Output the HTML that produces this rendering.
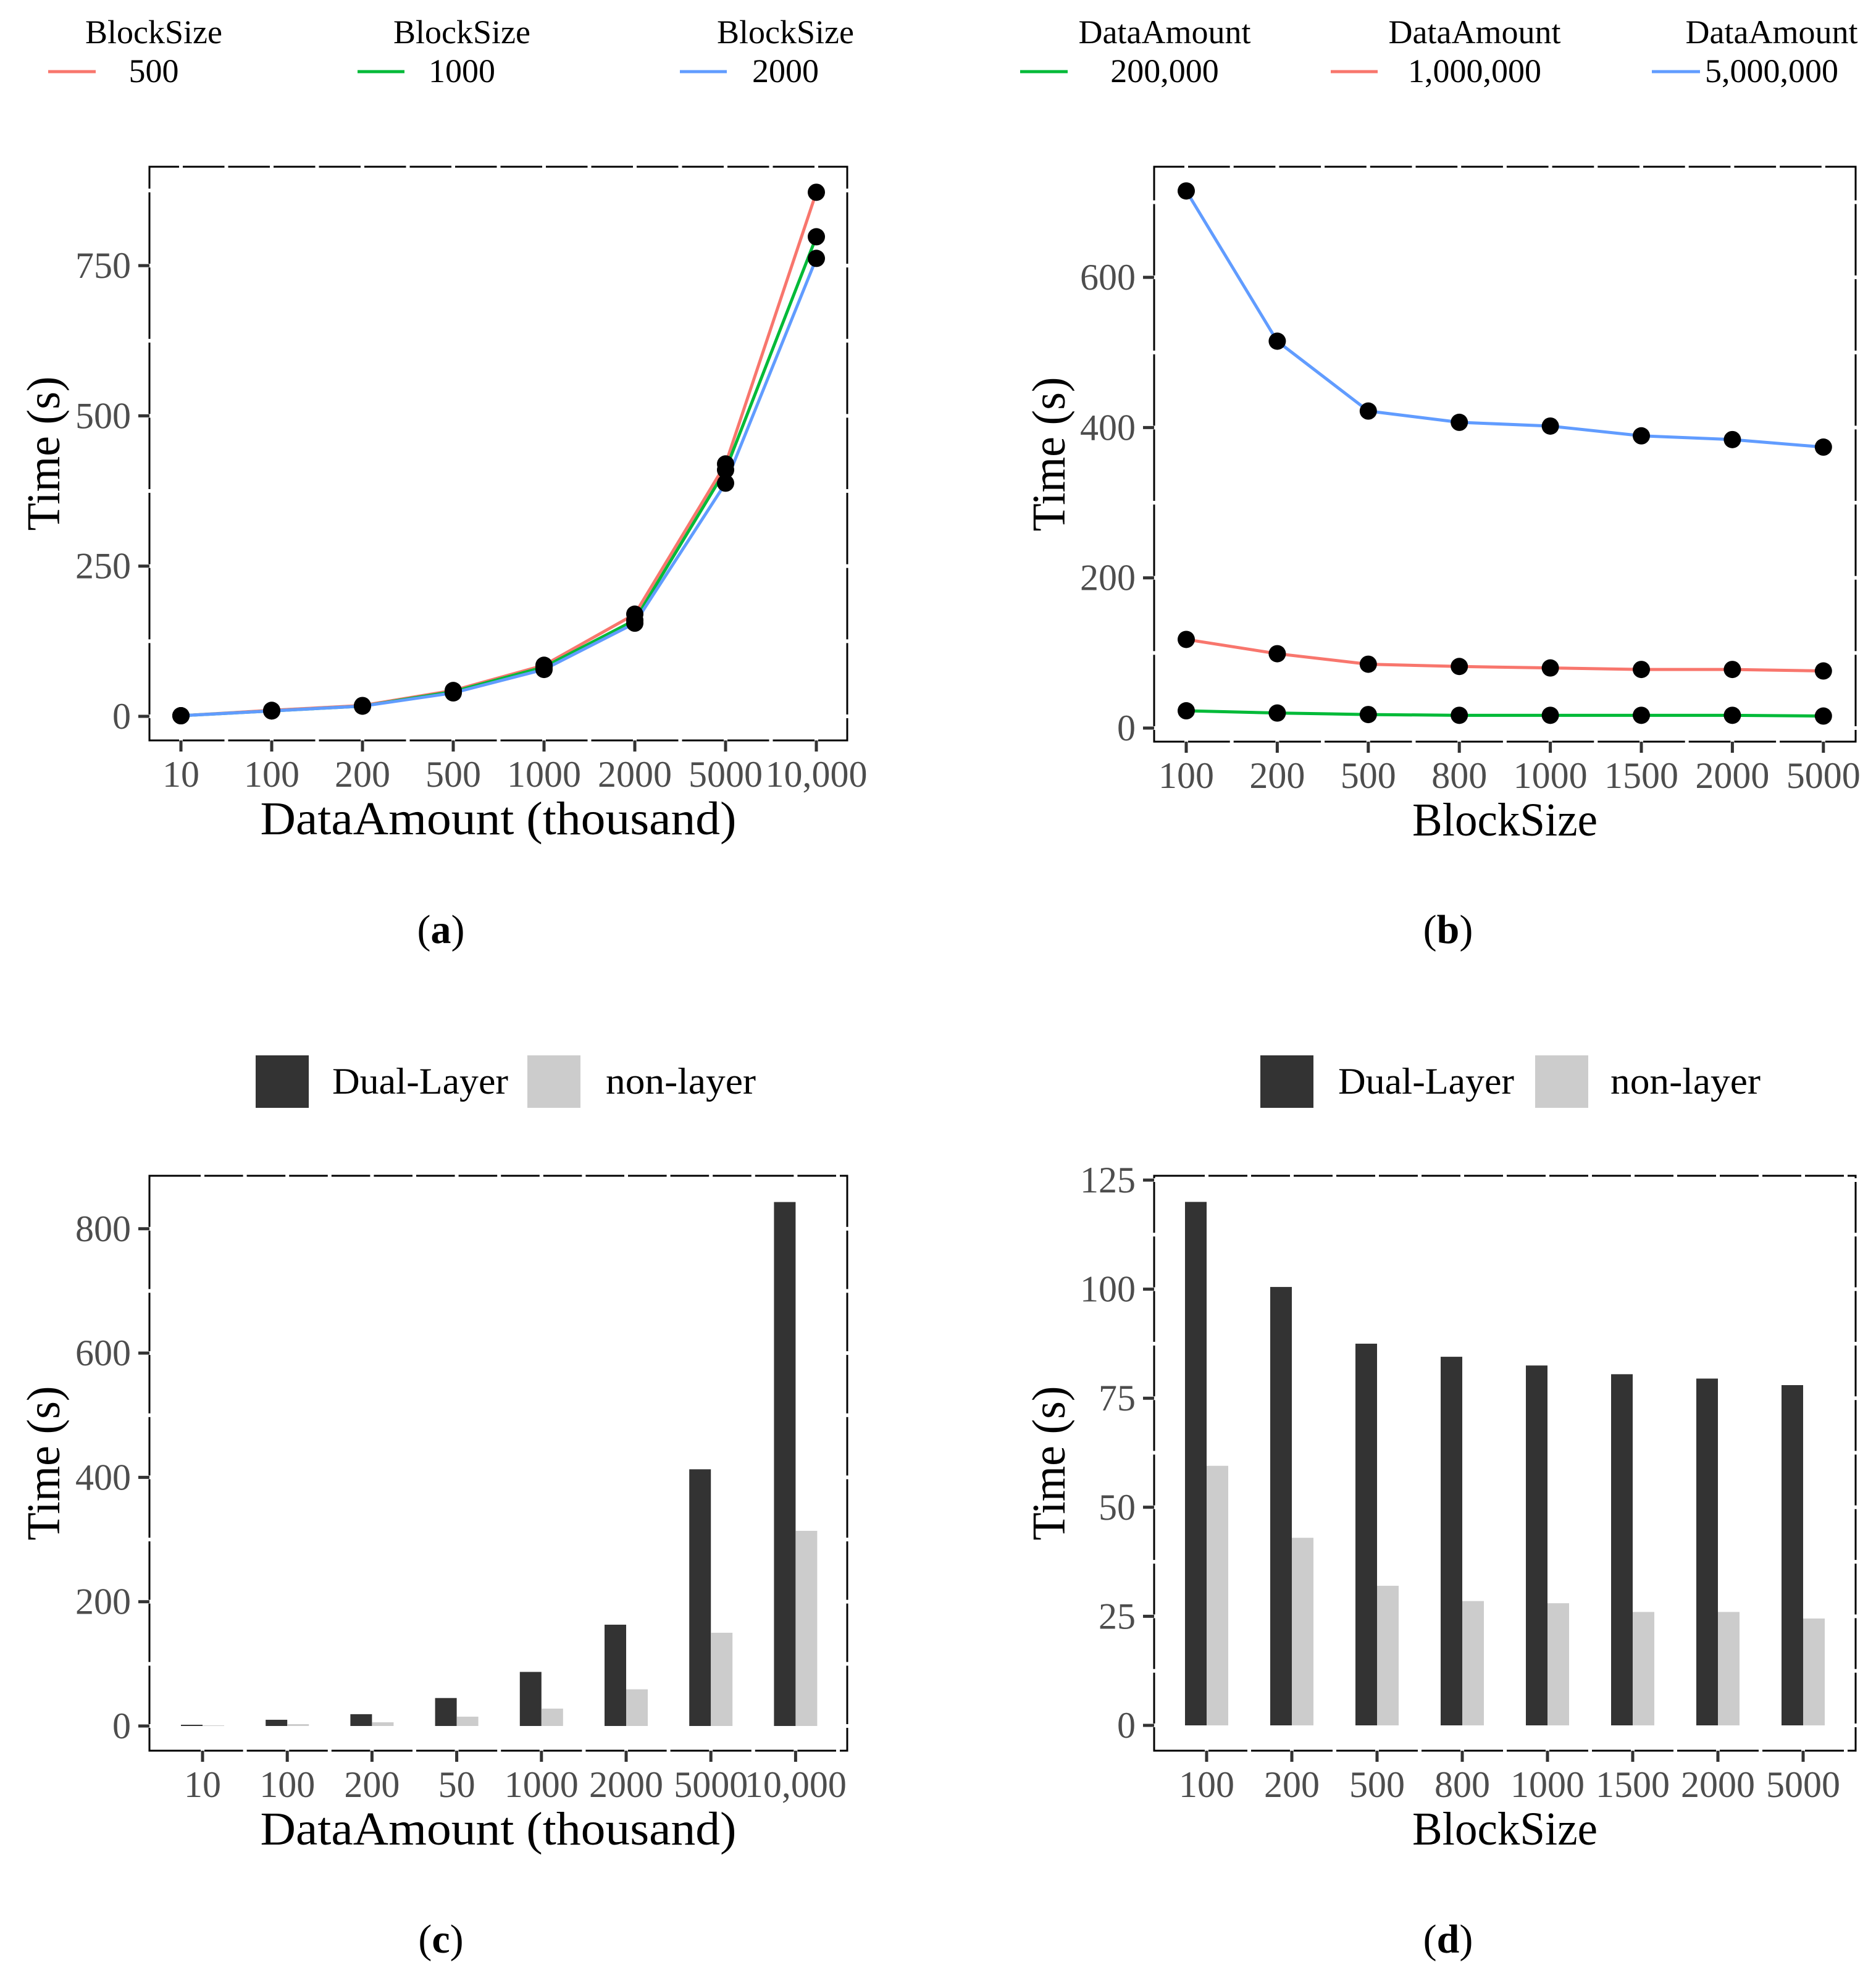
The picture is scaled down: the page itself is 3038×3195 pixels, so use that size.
<!DOCTYPE html>
<html><head><meta charset="utf-8"><style>
html,body{margin:0;padding:0;background:#fff;}
svg{display:block;font-family:"Liberation Serif",serif;}
</style></head><body>
<svg id="fig" width="3038" height="3195" viewBox="0 0 3038 3195" xmlns="http://www.w3.org/2000/svg"></svg>
<script>
// ---- Panel (a) data ----
const aCats = ["10","100","200","500","1000","2000","5000","10,000"];
const aSeriesNames = ["500","1000","2000"];
const aS500 = [1,10,18,43,85,170,420,872];
const aS1000 = [1,9,17,41,82,160,410,798];
const aS2000 = [1,9,17,39,78,155,388,762];
const aTicks = [0,250,500,750];
// ---- Panel (b) data ----
const bCats = ["100","200","500","800","1000","1500","2000","5000"];
const bSeriesNames = ["200,000","1,000,000","5,000,000"];
const b200k = [23,20,18,17,17,17,17,16];
const b1m = [118,99,85,82,80,78,78,76];
const b5m = [715,515,422,407,402,389,384,374];
const bTicks = [0,200,400,600];
// ---- Panel (c) data ----
const cCats = ["10","100","200","50","1000","2000","5000","10,000"];
const cDual = [2,10,19,45,87,163,413,843];
const cNon = [1,3,6,15,28,59,150,314];
const cTicks = [0,200,400,600,800];
// ---- Panel (d) data ----
const dCats = ["100","200","500","800","1000","1500","2000","5000"];
const dDual = [120,100.5,87.5,84.5,82.5,80.5,79.5,78];
const dNon = [59.5,43,32,28.5,28,26,26,24.5];
const dTicks = [0,25,50,75,100,125];

const NS="http://www.w3.org/2000/svg";
const svg=document.getElementById('fig');
function mk(tag,attrs,parent,text){
  const e=document.createElementNS(NS,tag);
  for(const k in attrs) e.setAttribute(k,attrs[k]);
  if(text!==undefined) e.textContent=text;
  (parent||svg).appendChild(e);
  return e;
}

function panel(o){
  const g=mk('g',{});
  
  
  const {L,R,T,B}=o.box;
  const n=o.cats.length;
  const xs=i=>o.x0+i*o.dx;
  const ys=v=>o.y0-(v-0)*o.py;
  o.draw(g,xs,ys);
  const bd=mk('rect',{x:L,y:T,width:R-L,height:B-T,fill:'none',stroke:'#000','stroke-width':3},g);
  
  
  for(let i=0;i<n;i++){
    [xs(i),xs(i)+o.dx/2].forEach(x=>{
      if(x>L+4&&x<R-4){
        mk('rect',{x:x-3,y:T-3,width:6,height:7,fill:'#fff'},g);
        mk('rect',{x:x-3,y:B-3,width:6,height:7,fill:'#fff'},g);
      }
    });
  }
  const tk=o.ticks;
  const step=tk[1]-tk[0];
  for(let j=0;j<tk.length+1;j++){
    [ys(tk[0]+j*step),ys(tk[0]+j*step+step/2)].forEach(y=>{
      if(y>T+4&&y<B-4){
        mk('rect',{x:L-3,y:y-3,width:7,height:6,fill:'#fff'},g);
        mk('rect',{x:R-3,y:y-3,width:7,height:6,fill:'#fff'},g);
      }
    });
  }
  o.cats.forEach((c,i)=>{
    const x=xs(i);
    const t=mk('line',{x1:x,y1:B,x2:x,y2:B+18,stroke:'#333','stroke-width':5},g);
    
    
    const lb=mk('text',{x:x,y:B+75,'text-anchor':'middle','font-size':60,fill:'#4d4d4d'},g,c);
    
    
  });
  tk.forEach(v=>{
    const y=ys(v);
    const t=mk('line',{x1:L-18,y1:y,x2:L,y2:y,stroke:'#333','stroke-width':5},g);
    
    
    const lb=mk('text',{x:L-30,y:y+20,'text-anchor':'end','font-size':60,fill:'#4d4d4d'},g,String(v));
    
    
  });
  const xt=mk('text',{x:o.xtX-o.xtW/2,y:B+152,'font-size':76,fill:'#000',textLength:o.xtW,lengthAdjust:'spacingAndGlyphs'},g,o.xtitle);
  
  
  const yc=(T+B)/2;
  const yt=mk('text',{x:-125,y:0,'font-size':76,fill:'#000',textLength:250,lengthAdjust:'spacingAndGlyphs',transform:`translate(${o.ytX},${yc}) rotate(-90)`},g,'Time (s)');
  
  
  const cap=mk('text',{x:o.capX,y:o.capY,'text-anchor':'middle','font-size':66,fill:'#000'},g);
  
  
  mk('tspan',{},cap,'(');
  mk('tspan',{'font-weight':'bold'},cap,o.cap);
  mk('tspan',{},cap,')');
}

function lines(seriesList,colors){
  return (g,xs,ys)=>{
    seriesList.forEach((s,k)=>{
      const p=s.map((v,i)=>`${xs(i)},${ys(v)}`).join(' ');
      const l=mk('polyline',{points:p,fill:'none',stroke:colors[k],'stroke-width':5},g);
      
      
    });
    seriesList.forEach(s=>{
      s.forEach((v,i)=>{
        const c=mk('circle',{cx:xs(i),cy:ys(v),r:14,fill:'#000'},g);
        
        
      });
    });
  };
}
function bars(d1,d2,bw){
  return (g,xs,ys)=>{
    d1.forEach((v,i)=>{
      const r=mk('rect',{x:xs(i)-bw,y:ys(v),width:bw,height:ys(0)-ys(v),fill:'#333333'},g);
      
      
    });
    d2.forEach((v,i)=>{
      const r=mk('rect',{x:xs(i),y:ys(v),width:bw,height:ys(0)-ys(v),fill:'#cccccc'},g);
      
      
    });
  };
}

const RED='#F8766D',GREEN='#00BA38',BLUE='#619CFF';

panel({name:'panel-a',cats:aCats,box:{L:242,R:1372,T:270,B:1199},x0:293,dx:147,y0:1160,py:243.3/250,
  ticks:aTicks,xtitle:'DataAmount (thousand)',xtX:807,xtW:771,ytX:96,cap:'a',capX:714,capY:1527,
  draw:lines([aS500,aS1000,aS2000],[RED,GREEN,BLUE])});
panel({name:'panel-b',cats:bCats,box:{L:1869,R:3005,T:270,B:1201},x0:1921,dx:147.4,y0:1179,py:243.3/200,
  ticks:bTicks,xtitle:'BlockSize',xtX:2437,xtW:300,ytX:1724,cap:'b',capX:2345,capY:1527,
  draw:lines([b5m,b1m,b200k],[BLUE,RED,GREEN])});
panel({name:'panel-c',cats:cCats,box:{L:242,R:1372,T:1904,B:2835},x0:328,dx:137.2,y0:2795,py:201.3/200,
  ticks:cTicks,xtitle:'DataAmount (thousand)',xtX:807,xtW:771,ytX:96,cap:'c',capX:714,capY:3162,
  draw:bars(cDual,cNon,35)});
panel({name:'panel-d',cats:dCats,box:{L:1869,R:3005,T:1904,B:2835},x0:1954,dx:138,y0:2794,py:176.6/25,
  ticks:dTicks,xtitle:'BlockSize',xtX:2437,xtW:300,ytX:1724,cap:'d',capX:2345,capY:3162,
  draw:bars(dDual,dNon,35)});

function lineLegend(items){
  items.forEach(it=>{
    const g=mk('g',{});
    
    
    mk('text',{x:it.tx,y:70,'text-anchor':'middle','font-size':54,fill:'#000'},g,it.title);
    mk('line',{x1:it.l1,y1:116,x2:it.l2,y2:116,stroke:it.c,'stroke-width':5},g);
    mk('text',{x:it.tx,y:133,'text-anchor':'middle','font-size':54,fill:'#000'},g,it.label);
  });
}
lineLegend([
  {title:'BlockSize',label:aSeriesNames[0],tx:249,l1:78,l2:155,c:RED},
  {title:'BlockSize',label:aSeriesNames[1],tx:748,l1:579,l2:655,c:GREEN},
  {title:'BlockSize',label:aSeriesNames[2],tx:1272,l1:1101,l2:1177,c:BLUE},
  {title:'DataAmount',label:bSeriesNames[0],tx:1886,l1:1652,l2:1729,c:GREEN},
  {title:'DataAmount',label:bSeriesNames[1],tx:2388,l1:2155,l2:2231,c:RED},
  {title:'DataAmount',label:bSeriesNames[2],tx:2869,l1:2675,l2:2753,c:BLUE}
]);
function barLegend(d,n,tx1,tx2){
  const g1=mk('g',{});
  
  
  mk('rect',{x:d,y:1709,width:86,height:85,fill:'#333333'},g1);
  mk('text',{x:tx1,y:1771,'font-size':60,fill:'#000',textLength:285,lengthAdjust:'spacingAndGlyphs'},g1,'Dual-Layer');
  const g2=mk('g',{});
  
  
  mk('rect',{x:n,y:1709,width:86,height:85,fill:'#cccccc'},g2);
  mk('text',{x:tx2,y:1771,'font-size':60,fill:'#000',textLength:243,lengthAdjust:'spacingAndGlyphs'},g2,'non-layer');
}
barLegend(414,854,538,981);
barLegend(2041,2486,2167,2608);
</script>
</body></html>
